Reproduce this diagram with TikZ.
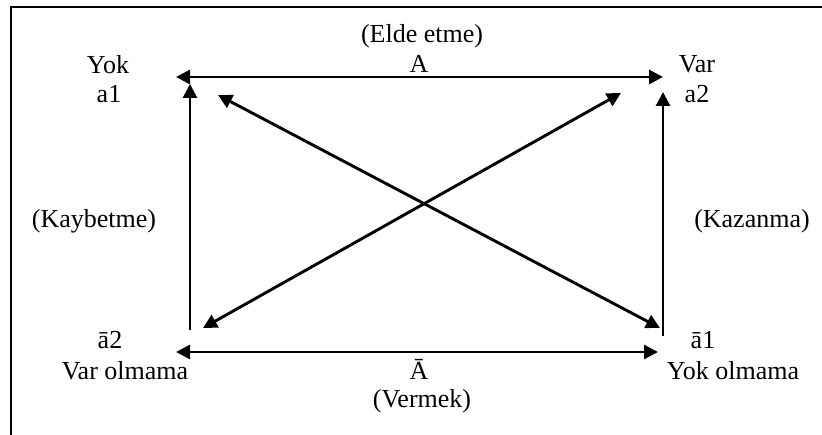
\documentclass[tikz,border=0pt]{standalone}
\usepackage{fontspec}
\setmainfont{Liberation Serif}
\usetikzlibrary{arrows.meta}
\begin{document}
\begin{tikzpicture}[x=1pt,y=-1pt,
  lbl/.style={anchor=base,inner sep=0pt,font=\fontsize{26}{30}\selectfont},
  conn/.style={line width=2.9pt,-{Triangle[length=14pt,width=14pt]}},
  dconn/.style={line width=2.9pt,{Triangle[length=14pt,width=14pt]}-{Triangle[length=14pt,width=14pt]}},
  frame/.style={line width=2.9pt}]
\useasboundingbox (0,0) rectangle (822,435);
% frame (top and left sides only)
\coordinate (fbl) at (11,436);
\coordinate (ftl) at (11,7);
\coordinate (ftr) at (823,7);
\draw[frame] (fbl) -- (ftl) -- (ftr);
% labels
\node[lbl] (yok) at (108,74) {Yok};
\node[lbl] (a1) at (109,103) {a1};
\node[lbl] (var) at (697,73) {Var};
\node[lbl] (a2) at (697,103) {a2};
\node[lbl] (elde) at (422,43) {(Elde etme)};
\node[lbl] (A) at (419,73) {A};
\node[lbl] (ab2) at (110,349) {ā2};
\node[lbl] (varol) at (125,380) {Var olmama};
\node[lbl] (ab1) at (703,349) {ā1};
\node[lbl] (yokol) at (733,380) {Yok olmama};
\node[lbl] (Ab) at (419,380) {Ā};
\node[lbl] (verm) at (422,408) {(Vermek)};
\node[lbl] (kayb) at (94,228) {(Kaybetme)};
\node[lbl] (kaz) at (752,228) {(Kazanma)};
% arrow end points
\coordinate (tl) at (176,77);
\coordinate (tr) at (663,77);
\coordinate (bl) at (176,352);
\coordinate (br) at (658,352);
\coordinate (lvb) at (190,330);
\coordinate (lvt) at (190,84);
\coordinate (rvb) at (663,336);
\coordinate (rvt) at (663,92);
\coordinate (d1a) at (218,95);
\coordinate (d1b) at (660,328);
\coordinate (d2a) at (203,328);
\coordinate (d2b) at (621,93);
% connectors
\draw[dconn] (tl) -- (tr);
\draw[dconn] (bl) -- (br);
\draw[conn] (lvb) -- (lvt);
\draw[conn] (rvb) -- (rvt);
\draw[dconn] (d1a) -- (d1b);
\draw[dconn] (d2a) -- (d2b);
\end{tikzpicture}
\end{document}
